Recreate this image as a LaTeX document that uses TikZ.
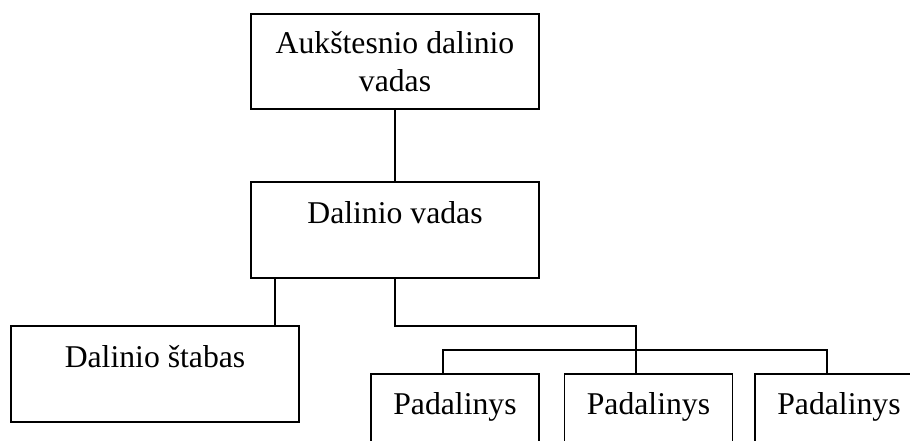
\documentclass[tikz,border=0pt]{standalone}
\usepackage{fontspec}
\setmainfont{Liberation Serif}
\usetikzlibrary{calc}

\begin{document}
\begin{tikzpicture}[
	x=1pt,y=-1pt,
	box/.style={draw,line width=1.3pt,inner sep=0pt,outer sep=0pt,minimum width=288pt,
		font=\fontsize{31.7}{38}\selectfont},
	lowbox/.style={box,text height=41pt,text depth=55pt},
	unitbox/.style={box,minimum width=168pt,text height=40pt,text depth=70pt},
	link/.style={line width=1.3pt}
	]
	\useasboundingbox (0,0) rectangle (910,441);
	\clip (0,0) rectangle (910,441);

	\node[box,minimum height=95pt,align=center] (aukst) at (395,61.5) {Aukštesnio dalinio\\vadas};
	\node[lowbox,anchor=north] (vadas)  at (395,182) {Dalinio vadas};
	\node[lowbox,anchor=north] (stabas) at (155,326) {Dalinio štabas};
	\node[unitbox,anchor=north] (pad1) at (455,374)   {Padalinys};
	\node[unitbox,anchor=north] (pad2) at (648.5,374) {Padalinys};
	\node[unitbox,anchor=north] (pad3) at (839,374)   {Padalinys};

	\draw[link] (aukst) -- (vadas);
	\draw[link] ($(vadas.south west)+(24,0)$) -- ($(stabas.north east)+(-24,0)$);
	\coordinate (split) at ($(vadas.south)+(0,48)$);
	\draw[link] (vadas.south) -- (split) -| ($(pad2.north)+(-12.5,0)$);
	\draw[link] ($(pad1.north)+(-12,0)$) -- ++(0,-24) -| ($(pad3.north)+(-12,0)$);
\end{tikzpicture}
\end{document}
